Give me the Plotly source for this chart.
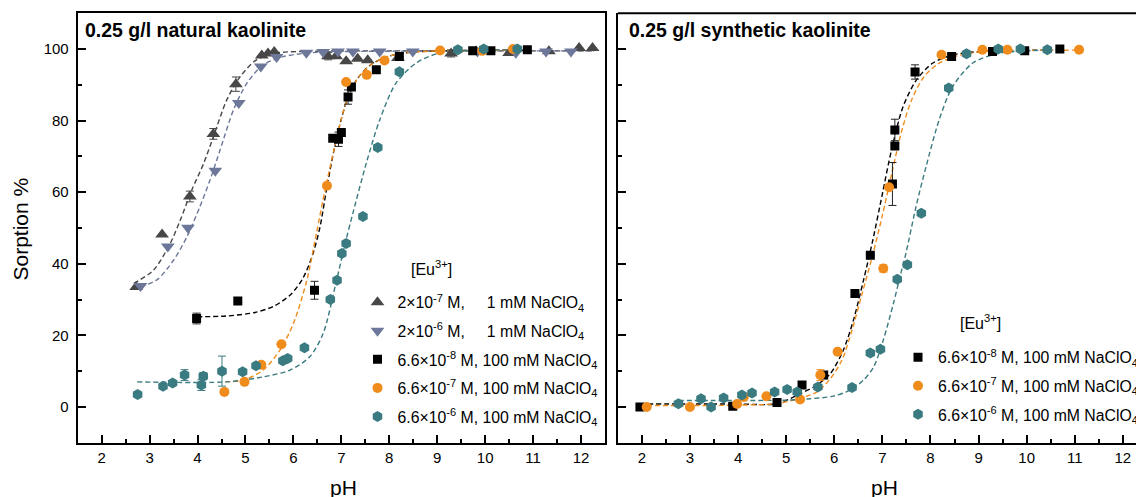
import plotly.graph_objects as go

W, H = 1136, 497
FONT = "Liberation Sans, Arial, sans-serif"

# ---------------- data: left panel (natural kaolinite) ----------------
A_ph = [2.72, 3.26, 3.84, 4.33, 4.80, 5.34, 5.47, 5.60, 6.72, 6.89, 7.10, 7.34, 7.55, 8.18, 9.29, 9.81, 10.50, 11.33, 11.96, 12.24]
A_val = [33.5, 48.2, 58.8, 76.3, 90.2, 98.2, 98.8, 99.2, 98.0, 98.0, 96.6, 97.3, 96.9, 97.5, 98.8, 99.3, 98.9, 99.4, 100.3, 100.3]
A_err = [None, None, 1.5, 1.5, 2.0, None, None, None, 1.0, None, None, None, None, None, 1.0, None, None, None, None, None]
A_fit_ph = [2.67, 3.08, 3.43, 3.64, 3.88, 4.13, 4.33, 4.61, 4.89, 5.23, 5.65, 6.5, 8.0, 10.0, 12.27]
A_fit_val = [34.5, 38.2, 45.7, 52.2, 60.6, 68.1, 75.5, 85.8, 92.3, 97.0, 98.9, 99.4, 99.5, 99.5, 99.5]

B_ph = [2.81, 3.38, 3.80, 4.37, 4.86, 5.32, 5.65, 6.27, 6.62, 6.93, 7.24, 7.80, 8.49, 9.84, 10.64, 11.27, 11.79]
B_val = [33.8, 44.8, 50.1, 66.0, 84.9, 95.1, 97.8, 99.0, 99.2, 99.3, 99.3, 99.3, 99.3, 99.3, 99.0, 99.3, 99.3]
B_fit_ph = [2.81, 3.15, 3.50, 3.78, 4.05, 4.26, 4.47, 4.75, 5.03, 5.37, 5.79, 6.5, 8.0, 10.0, 12.27]
B_fit_val = [33.6, 35.5, 41.0, 47.6, 56.0, 63.4, 71.8, 83.0, 90.5, 95.6, 97.9, 99.1, 99.4, 99.5, 99.5]

C_ph = [3.98, 4.84, 6.44, 6.82, 6.94, 7.00, 7.14, 7.21, 7.73, 8.21, 9.74, 10.12, 10.88]
C_val = [24.7, 29.6, 32.6, 75.1, 74.8, 76.7, 86.6, 89.4, 94.2, 97.9, 99.5, 99.5, 99.8]
C_err = [1.5, None, 2.5, None, 2.0, None, 2.0, None, None, None, None, None, None]
C_fit_ph = [3.99, 4.6, 5.2, 5.6, 5.95, 6.2, 6.4, 6.55, 6.7, 6.85, 7.0, 7.15, 7.35, 7.6, 7.9, 8.3, 8.8, 9.5, 10.9]
C_fit_val = [25.2, 25.4, 26.4, 28.2, 31.5, 36.0, 42.5, 50.0, 61.5, 72.0, 80.5, 87.0, 92.0, 95.5, 97.6, 98.9, 99.4, 99.6, 99.7]

D_ph = [4.56, 4.98, 5.33, 5.75, 6.70, 7.10, 7.53, 7.90, 9.06, 9.94, 10.58]
D_val = [4.2, 7.0, 11.8, 17.5, 61.8, 90.8, 92.8, 96.8, 99.6, 99.5, 100.0]
D_fit_ph = [4.58, 4.96, 5.37, 5.72, 6.00, 6.28, 6.48, 6.66, 6.85, 7.0, 7.15, 7.35, 7.6, 7.9, 8.3, 8.8, 9.5, 10.6]
D_fit_val = [7.0, 7.5, 10.3, 15.9, 23.3, 35.4, 48.5, 60.6, 72.0, 80.5, 87.0, 92.0, 95.5, 97.6, 98.9, 99.4, 99.6, 99.7]

E_ph = [2.75, 3.28, 3.48, 3.73, 4.08, 4.12, 4.51, 4.94, 5.22, 5.78, 5.88, 6.23, 6.77, 6.91, 7.01, 7.10, 7.45, 7.76, 8.21, 9.43, 9.97, 10.67]
E_val = [3.5, 5.8, 6.7, 8.9, 6.1, 8.6, 10.0, 9.8, 11.5, 12.9, 13.5, 16.5, 30.0, 35.4, 42.9, 45.7, 53.2, 72.5, 93.7, 99.8, 100.0, 100.0]
E_err = [None, None, None, 1.5, 1.5, 1.0, 4.2, None, None, None, None, None, None, None, None, None, None, None, None, None, None, None]
E_fit_ph = [2.74, 4.61, 5.37, 5.93, 6.34, 6.62, 6.90, 7.10, 7.24, 7.52, 7.80, 8.14, 8.56, 9.04, 9.6, 10.7]
E_fit_val = [7.0, 7.0, 8.4, 10.3, 14.0, 20.5, 35.4, 46.8, 54.1, 68.1, 80.2, 90.5, 96.1, 98.9, 99.6, 99.8]

# ---------------- data: right panel (synthetic kaolinite) ----------------
Cr_ph = [1.96, 3.89, 4.81, 5.33, 5.78, 6.43, 6.75, 7.21, 7.26, 7.26, 7.68, 8.44, 9.29, 9.96, 10.69]
Cr_val = [0.0, 0.2, 1.2, 6.1, 8.9, 31.7, 42.4, 62.3, 72.9, 77.4, 93.6, 97.9, 99.3, 99.5, 100.0]
Cr_err = [None, None, None, None, 1.0, 1.0, None, 6.0, None, 3.0, 2.0, None, None, 0.8, None]
Cr_fit_ph = [1.96, 3.0, 4.0, 4.81, 5.29, 5.64, 5.92, 6.19, 6.40, 6.61, 6.80, 7.00, 7.19, 7.43, 7.71, 8.05, 8.47, 9.02, 9.6, 10.69]
Cr_fit_val = [0.8, 0.8, 0.8, 0.9, 3.7, 6.1, 9.3, 15.9, 24.3, 35.5, 46.5, 59.5, 71.8, 83.9, 91.4, 96.1, 98.4, 99.3, 99.6, 99.7]

Dr_ph = [2.10, 3.00, 3.98, 4.12, 4.59, 5.29, 5.71, 6.07, 7.02, 7.14, 8.23, 9.08, 9.60, 11.09]
Dr_val = [0.0, 0.0, 0.8, 2.8, 3.0, 2.1, 8.9, 15.4, 38.7, 61.4, 98.4, 99.8, 99.8, 99.8]
Dr_err = [None, None, None, None, None, None, 1.5, None, 1.0, None, None, None, None, None]
Dr_fit_ph = [2.10, 3.0, 4.0, 4.8, 5.26, 5.64, 5.92, 6.16, 6.37, 6.58, 6.80, 7.00, 7.20, 7.40, 7.60, 7.85, 8.15, 8.55, 9.1, 9.7, 11.09]
Dr_fit_val = [0.4, 0.4, 0.5, 0.9, 2.3, 4.2, 7.9, 13.1, 21.5, 31.7, 42.5, 53.5, 65.5, 77.0, 85.5, 92.0, 95.8, 98.1, 99.3, 99.6, 99.7]

Er_ph = [2.76, 3.23, 3.44, 3.70, 4.08, 4.29, 4.76, 5.02, 5.23, 5.66, 6.37, 6.75, 6.96, 7.31, 7.52, 7.81, 8.38, 8.75, 9.41, 9.87, 10.43]
Er_val = [0.9, 2.3, 0.0, 2.5, 3.3, 3.9, 4.2, 4.9, 4.2, 5.6, 5.4, 15.1, 16.1, 35.7, 39.7, 54.1, 89.1, 98.7, 100.0, 100.0, 99.8]
Er_fit_ph = [2.76, 4.0, 5.0, 5.50, 5.98, 6.33, 6.61, 6.82, 7.02, 7.23, 7.40, 7.49, 7.70, 7.91, 8.18, 8.46, 8.88, 9.44, 10.0, 10.43]
Er_fit_val = [1.8, 1.8, 1.9, 2.3, 3.0, 4.7, 7.5, 11.2, 18.7, 28.9, 38.2, 42.9, 56.0, 67.2, 80.2, 89.5, 96.1, 98.9, 99.5, 99.7]

# ---------------- labels ----------------
NB = "\u00a0"
lab_A = "2×10<sup>-7</sup> M," + NB * 5 + "1 mM NaClO<sub>4</sub>"
lab_B = "2×10<sup>-6</sup> M," + NB * 5 + "1 mM NaClO<sub>4</sub>"
lab_C = "6.6×10<sup>-8</sup> M, 100 mM NaClO<sub>4</sub>"
lab_D = "6.6×10<sup>-7</sup> M, 100 mM NaClO<sub>4</sub>"
lab_E = "6.6×10<sup>-6</sup> M, 100 mM NaClO<sub>4</sub>"
title_left = "<b>0.25 g/l natural kaolinite</b>"
title_right = "<b>0.25 g/l synthetic kaolinite</b>"
legend_title = "[Eu<sup>3+</sup>]"
x_title = "pH"
y_title = "Sorption %"

# ---------------- styles ----------------
COL_A = "#474747"
COL_B = "#6c7799"
COL_C = "#000000"
COL_D = "#f08c1c"
COL_E = "#3a7b81"
DASH = "5px,3px"

fig = go.Figure()


def fit(xs, ys, color, xa, ya):
    fig.add_trace(go.Scatter(x=xs, y=ys, mode="lines", xaxis=xa, yaxis=ya,
                             line=dict(color=color, width=1.4, dash=DASH, shape="spline", smoothing=0.8),
                             showlegend=False, hoverinfo="skip"))


def pts(xs, ys, err, color, symbol, size, name, xa, ya, leg, grp):
    kw = {}
    if err is not None:
        kw["error_y"] = dict(type="data", array=err, visible=True, color="#222222" if color == COL_C else color,
                             thickness=1, width=4)
    fig.add_trace(go.Scatter(x=xs, y=ys, mode="markers", xaxis=xa, yaxis=ya, name=name,
                             marker=dict(color=color, symbol=symbol, size=size, line=dict(width=0)),
                             legend=leg, legendgroup=grp, showlegend=True, **kw))


# fitted curves (left)
fit(A_fit_ph, A_fit_val, COL_A, "x", "y")
fit(B_fit_ph, B_fit_val, COL_B, "x", "y")
fit(C_fit_ph, C_fit_val, COL_C, "x", "y")
fit(D_fit_ph, D_fit_val, COL_D, "x", "y")
fit(E_fit_ph, E_fit_val, COL_E, "x", "y")
# fitted curves (right)
fit(Cr_fit_ph, Cr_fit_val, COL_C, "x2", "y2")
fit(Dr_fit_ph, Dr_fit_val, COL_D, "x2", "y2")
fit(Er_fit_ph, Er_fit_val, COL_E, "x2", "y2")

# markers (left)
pts(A_ph, A_val, A_err, COL_A, "triangle-up", 12, lab_A, "x", "y", "legend", "a")
pts(B_ph, B_val, None, COL_B, "triangle-down", 12, lab_B, "x", "y", "legend", "b")
pts(C_ph, C_val, C_err, COL_C, "square", 9, lab_C, "x", "y", "legend", "c")
pts(D_ph, D_val, None, COL_D, "circle", 10, lab_D, "x", "y", "legend", "d")
pts(E_ph, E_val, E_err, COL_E, "hexagon", 11, lab_E, "x", "y", "legend", "e")
# markers (right)
pts(Cr_ph, Cr_val, Cr_err, COL_C, "square", 9, lab_C, "x2", "y2", "legend2", "rc")
pts(Dr_ph, Dr_val, Dr_err, COL_D, "circle", 10, lab_D, "x2", "y2", "legend2", "rd")
pts(Er_ph, Er_val, None, COL_E, "hexagon", 11, lab_E, "x2", "y2", "legend2", "re")


def py(p):
    return 1 - p / H


PXU = 48.1
L1, R1 = 77.7, 605.0
L2 = 617.8
TOP, BOT = 13.3, 442.7

axis_common = dict(showgrid=False, zeroline=False, showline=True, linecolor="black", linewidth=2,
                   ticks="inside", ticklen=8, tickwidth=1.5, tickcolor="black",
                   tickfont=dict(family=FONT, size=15, color="black"))
xcommon = dict(axis_common, tick0=0, dtick=1, ticklabelstandoff=0,
               minor=dict(ticks="inside", ticklen=4, tickwidth=1.5, tickcolor="black", dtick=0.5))
ycommon = dict(axis_common, tick0=0, dtick=20, range=[-10, 110], domain=[py(BOT), py(TOP)],
               minor=dict(ticks="inside", ticklen=4, tickwidth=1.5, tickcolor="black", dtick=10))

LEGFONT = dict(family=FONT, size=15.8, color="black")

fig.update_layout(
    width=W, height=H, template="none",
    paper_bgcolor="white", plot_bgcolor="white",
    margin=dict(l=0, r=0, t=0, b=0, autoexpand=False),
    font=dict(family=FONT, size=15, color="black"),
    xaxis=dict(xcommon, domain=[L1 / W, R1 / W], range=[1.5, 12.5], mirror=True, anchor="y"),
    yaxis=dict(ycommon, mirror=True, anchor="x", ticklabelstandoff=4),
    xaxis2=dict(xcommon, domain=[L2 / W, 1.0], range=[1.5, 1.5 + (W - L2) / PXU], anchor="y2"),
    yaxis2=dict(ycommon, anchor="x2", showticklabels=False),
    legend=dict(x=357.5 / W, y=py(285.5), xanchor="left", yanchor="top", bgcolor="rgba(0,0,0,0)",
                font=LEGFONT, tracegroupgap=5, traceorder="grouped"),
    legend2=dict(x=898.0 / W, y=py(340.5), xanchor="left", yanchor="top", bgcolor="rgba(0,0,0,0)",
                 font=LEGFONT, tracegroupgap=5, traceorder="grouped"),
    showlegend=True,
)

# top border of the right panel (its right edge lies outside the picture)
fig.add_shape(type="line", xref="x2 domain", yref="y2 domain", x0=0, x1=1, y0=1, y1=1,
              line=dict(color="black", width=2))

ann = [
    dict(text=title_left, x=82.7 / W, y=py(30), xanchor="left", yanchor="middle", size=19.5),
    dict(text=title_right, x=626.7 / W, y=py(30), xanchor="left", yanchor="middle", size=19.5),
    dict(text=legend_title, x=431 / W, y=py(268), xanchor="center", yanchor="middle", size=16),
    dict(text=legend_title, x=980 / W, y=py(322), xanchor="center", yanchor="middle", size=16),
    dict(text=x_title, x=343 / W, y=py(487), xanchor="center", yanchor="middle", size=21),
    dict(text=x_title, x=884 / W, y=py(487), xanchor="center", yanchor="middle", size=21),
]
for a in ann:
    fig.add_annotation(text=a["text"], x=a["x"], y=a["y"], xref="paper", yref="paper",
                       xanchor=a["xanchor"], yanchor=a["yanchor"], showarrow=False,
                       font=dict(family=FONT, size=a["size"], color="black"))
fig.add_annotation(text=y_title, x=20 / W, y=py(229.5), xref="paper", yref="paper", textangle=-90,
                   xanchor="center", yanchor="middle", showarrow=False,
                   font=dict(family=FONT, size=21, color="black"))

fig.write_html("out.html", config={"displayModeBar": False},
               post_script="document.body.style.margin='0px';document.body.style.overflow='hidden';")
